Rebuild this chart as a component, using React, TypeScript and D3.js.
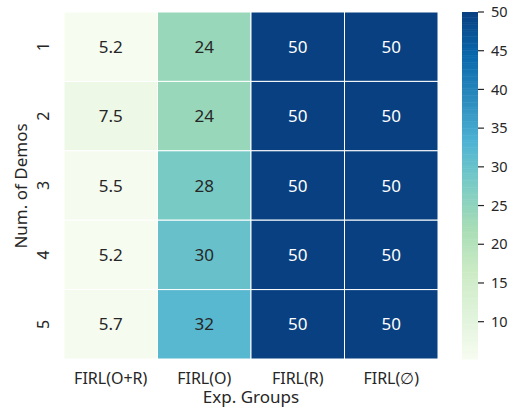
import React from "react";
import * as d3 from "d3";

const groups = ["FIRL(O+R)", "FIRL(O)", "FIRL(R)", "FIRL(∅)"];
const demos = ["1", "2", "3", "4", "5"];
const valsORplusR = [5.2, 7.5, 5.5, 5.2, 5.7];
const valsO = [24, 24, 28, 30, 32];
const valsR = [50, 50, 50, 50, 50];
const valsEmpty = [50, 50, 50, 50, 50];
const cbTicks = [10, 15, 20, 25, 30, 35, 40, 45, 50];
const gnbu = ["#f7fcf0", "#e0f3db", "#ccebc5", "#a8ddb5", "#7bccc4", "#4eb3d3", "#2b8cbe", "#0868ac", "#084081"];

const W = 513, H = 408;
const FONT = "'Noto Sans', 'Open Sans', sans-serif";

export default function App() {
  const cols = [valsORplusR, valsO, valsR, valsEmpty];
  const vmin = 5.18, vmax = 50;
  const x = d3.scaleBand().domain(groups).range([64, 438]);
  const y = d3.scaleBand().domain(demos).range([12, 359]);
  const t = d3.scaleLinear().domain([vmin, vmax]).range([0, 1]);
  const cmap = d3.scaleLinear<string>().domain(gnbu.map((_, i) => i / (gnbu.length - 1))).range(gnbu).interpolate(d3.interpolateRgb);
  const color = (v: number) => cmap(Math.max(0, Math.min(1, t(v))));
  const cbY = d3.scaleLinear().domain([vmin, vmax]).range([359, 12]);
  const cbX0 = 462, cbX1 = 478;
  const steps = d3.range(0, 200);
  const cells: any[] = [];
  cols.forEach((col, ci) => col.forEach((v, ri) => cells.push({ g: groups[ci], d: demos[ri], v })));
  const lum = (c: string) => { const r = d3.rgb(c); return 0.2126 * r.r + 0.7152 * r.g + 0.0722 * r.b; };
  return (
    <svg width={W} height={H} style={{ position: "absolute", left: 0, top: 0, fontFamily: FONT }}>
      <rect width={W} height={H} fill="#fff" />
      {cells.map((c, i) => (
        <rect key={i} x={x(c.g)} y={y(c.d)} width={x.bandwidth()} height={y.bandwidth()} fill={color(c.v)} stroke="#fff" strokeWidth={1} />
      ))}
      {cells.map((c, i) => (
        <text key={"t" + i} x={x(c.g)! + x.bandwidth() / 2} y={y(c.d)! + y.bandwidth() / 2} dy="0.36em" textAnchor="middle" fontSize={17} fill={lum(color(c.v)) > 128 ? "#262626" : "#ffffff"}>
          {c.v}
        </text>
      ))}
      {groups.map((g) => (
        <text key={g} x={x(g)! + x.bandwidth() / 2} y={384} textAnchor="middle" fontSize={16} fill="#262626">{g}</text>
      ))}
      {demos.map((d) => (
        <text key={d} transform={`translate(49,${y(d)! + y.bandwidth() / 2}) rotate(-90)`} textAnchor="middle" fontSize={16} fill="#262626">{d}</text>
      ))}
      <text x={251} y={403} textAnchor="middle" fontSize={17} fill="#262626">Exp. Groups</text>
      <text transform={`translate(27,186) rotate(-90)`} textAnchor="middle" fontSize={17} fill="#262626">Num. of Demos</text>
      {steps.map((s) => {
        const v0 = vmin + (vmax - vmin) * s / steps.length;
        const v1 = vmin + (vmax - vmin) * (s + 1) / steps.length;
        return <rect key={"c" + s} x={cbX0} width={cbX1 - cbX0} y={cbY(v1)} height={cbY(v0) - cbY(v1) + 0.5} fill={color((v0 + v1) / 2)} />;
      })}
      {cbTicks.map((v) => (
        <g key={"k" + v}>
          <line x1={cbX1} x2={cbX1 + 6} y1={cbY(v)} y2={cbY(v)} stroke="#262626" strokeWidth={1.2} />
          <text x={cbX1 + 13} y={cbY(v)} dy="0.36em" fontSize={14.5} fill="#262626">{v}</text>
        </g>
      ))}
    </svg>
  );
}
